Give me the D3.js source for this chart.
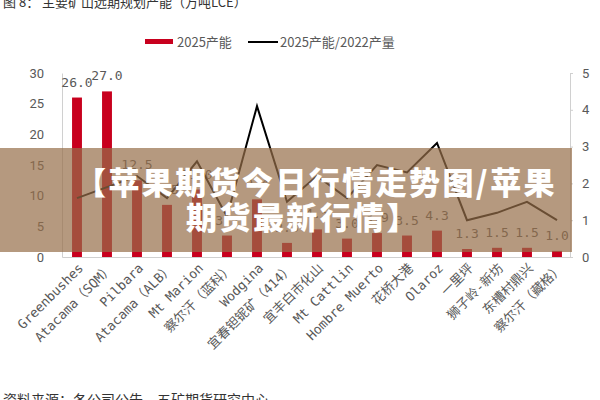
<!DOCTYPE html>
<html><head><meta charset="utf-8">
<script src="https://cdn.jsdelivr.net/npm/d3@7"></script>
<style>
html,body{margin:0;padding:0;background:#fff;}
svg{display:block;}
</style></head>
<body>
<svg id="chart" width="600" height="400"></svg>
<script>
const categories = ["Greenbushes","Atacama（SQM）","Pilbara","Atacama（ALB）","Mt Marion","察尔汗（蓝科）","Wodgina","宜春钽铌矿（414）","宜丰白市化山","Mt Cattlin","Hombre Muerto","花桥大港","Olaroz","一里坪","狮子岭-新坊","东槽村鼎兴","察尔汗（藏格）"];
const capacity2025 = [26.0,27.0,12.5,8.5,11.0,3.5,9.4,2.3,4.5,3.0,3.9,3.5,4.3,1.3,1.5,1.5,1.0];
const ratio = [1.6,1.9,2.2,1.6,2.6,1.1,4.1,1.5,2.2,1.6,2.5,2.3,3.1,1.0,1.2,1.5,1.0];
const leftTicks = [0,5,10,15,20,25,30];
const rightTicks = [0,1,2,3,4,5];
const seriesNames = ["2025产能","2025产能/2022产量"];
const titleText = "图 8：  主要矿山远期规划产能（万吨LCE）";
const sourceText = "资料来源：各公司公告，五矿期货研究中心";
const bannerLines = ["【苹果期货今日行情走势图/苹果","期货最新行情】"];

(function(){
const svg = d3.select("#chart");
const gray = "#595959", axisGray = "#d0d0d0", red = "#c8001e";
const pL = 62, pR = 572, pT = 73, pB = 257;

const x = d3.scaleBand().domain(categories).range([pL, pR]).paddingInner(0.67).paddingOuter(0.335);
const yL = d3.scaleLinear().domain([0,30]).range([pB, pT]);
const yR = d3.scaleLinear().domain([0,5]).range([pB, pT]);

svg.append("text").attr("x",3).attr("y",7).attr("font-size",13)
  .attr("font-family","'Noto Sans CJK SC',sans-serif").attr("fill","#333").text(titleText);

const lg = svg.append("g");
lg.append("rect").attr("x",145).attr("y",39).attr("width",28).attr("height",5).attr("fill",red);
lg.append("text").attr("x",177).attr("y",46.5).attr("font-size",13).attr("fill",gray)
  .attr("font-family","'Noto Sans CJK SC',sans-serif").text(seriesNames[0]);
lg.append("line").attr("x1",248).attr("x2",278).attr("y1",42).attr("y2",42).attr("stroke","#000").attr("stroke-width",2);
lg.append("text").attr("x",280).attr("y",46.5).attr("font-size",13).attr("fill",gray)
  .attr("font-family","'Noto Sans CJK SC',sans-serif").text(seriesNames[1]);

const la = svg.append("g").attr("transform",`translate(${pL},0)`)
  .call(d3.axisLeft(yL).tickValues(leftTicks).tickSize(0).tickPadding(18));
la.select(".domain").attr("stroke",axisGray);
la.selectAll("text").attr("font-size",13).attr("fill",gray).attr("font-family","Roboto,'Noto Sans',sans-serif");

const ra = svg.append("g").attr("transform",`translate(${pR-2},0)`)
  .call(d3.axisRight(yR).tickValues(rightTicks).tickFormat(d3.format("d")).tickSize(3).tickPadding(9));
ra.select(".domain").attr("stroke",axisGray);
ra.selectAll(".tick line").attr("stroke",axisGray);
ra.selectAll("text").attr("font-size",13).attr("fill",gray).attr("font-family","Roboto,'Noto Sans',sans-serif");

const ba = svg.append("g").attr("transform",`translate(0,${pB})`)
  .call(d3.axisBottom(x).tickSize(0).tickPadding(0));
ba.select(".domain").attr("stroke",axisGray);
ba.selectAll("text")
  .attr("font-size",13).attr("fill",gray)
  .attr("font-family","'DejaVu Sans Mono','Noto Sans CJK SC',monospace")
  .attr("text-anchor","end").attr("dy",null).attr("y",null)
  .attr("transform","translate(7,12) rotate(-45)");

svg.append("g").selectAll("rect").data(capacity2025).join("rect")
  .attr("x",(d,i)=>x(categories[i])).attr("width",x.bandwidth())
  .attr("y",d=>yL(d)).attr("height",d=>pB-yL(d)).attr("fill",red);

svg.append("g").selectAll("text").data(capacity2025).join("text")
  .attr("x",(d,i)=>x(categories[i])+x.bandwidth()/2).attr("y",d=>yL(d)-11)
  .attr("text-anchor","middle").attr("font-size",13).attr("fill",gray)
  .attr("font-family","'DejaVu Sans Mono',monospace").text(d=>d.toFixed(1));

const line = d3.line().x((d,i)=>x(categories[i])+x.bandwidth()/2).y(d=>yR(d));
svg.append("path").datum(ratio).attr("d",line).attr("fill","none").attr("stroke","#000").attr("stroke-width",2);

svg.append("text").attr("x",3).attr("y",405).attr("font-size",14)
  .attr("font-family","'Noto Sans CJK SC',sans-serif").attr("fill","#333").text(sourceText);

svg.append("rect").attr("x",0).attr("y",148).attr("width",572).attr("height",104)
  .attr("fill","rgb(150,110,72)").attr("fill-opacity",0.7);
svg.append("text").attr("x",316).attr("y",194).attr("text-anchor","middle")
  .attr("font-size",31).attr("font-weight",900).attr("fill","#fff").attr("letter-spacing",2.4)
  .attr("font-family","'Noto Sans CJK SC',sans-serif").text(bannerLines[0]);
svg.append("text").attr("x",303).attr("y",229).attr("text-anchor","middle")
  .attr("font-size",31).attr("font-weight",900).attr("fill","#fff").attr("letter-spacing",2.4)
  .attr("font-family","'Noto Sans CJK SC',sans-serif").text(bannerLines[1]);
})();
</script>
</body></html>
